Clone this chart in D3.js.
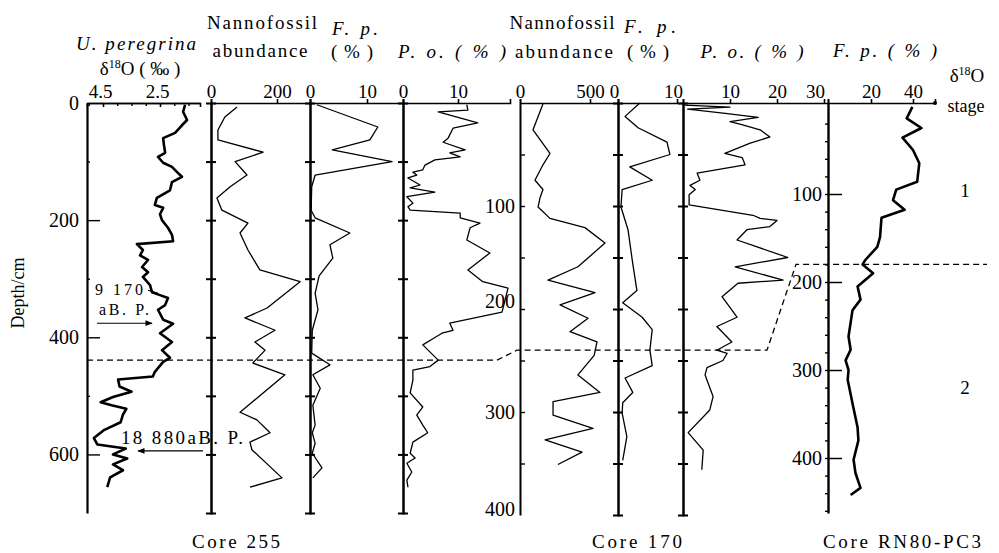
<!DOCTYPE html>
<html>
<head>
<meta charset="utf-8">
<script src="https://cdn.jsdelivr.net/npm/d3@7"></script>
<style>
  body { margin: 0; background: #fff; }
  svg, svg text { font-family: "Liberation Serif", "Times New Roman", "DejaVu Serif", serif; }
</style>
</head>
<body>
<svg id="chart" width="999" height="553" font-family="Liberation Serif, serif"></svg>
<script>
// All series are [depth (cm), value] pairs

// Core 255
var d18O255 = [[3,1.62],[15,1.69],[29,1.55],[38,1.73],[51,1.97],[60,2.39],[72,2.36],[85,2.32],[92,2.57],[102,2.39],[109,2.08],[118,1.90],[126,1.73],[135,2.08],[149,2.15],[162,2.61],[174,2.68],[179,2.39],[190,2.50],[200,2.43],[213,2.22],[225,2.08],[236,2.04],[241,3.31],[251,3.10],[260,3.20],[268,2.92],[280,3.13],[289,2.92],[297,3.10],[311,2.85],[323,2.78],[328,2.50],[333,2.22],[345,2.32],[353,2.57],[370,2.39],[377,2.04],[393,2.50],[408,2.08],[422,2.43],[435,2.15],[442,2.39],[459,2.68],[467,2.75],[472,3.97],[484,3.92],[493,3.50],[502,4.15],[511,4.58],[516,4.20],[522,3.68],[532,3.80],[545,3.88],[558,4.45],[572,4.82],[583,4.70],[590,3.70],[600,4.15],[607,3.65],[617,4.15],[627,3.80],[639,4.25],[656,4.35]];
var nanno255 = [[7,79],[24,42],[46,21],[63,21],[84,158],[100,73],[123,109],[143,58],[162,18],[183,33],[205,112],[222,88],[251,112],[285,148],[305,270],[350,170],[367,103],[388,194],[408,133],[422,164],[444,127],[464,224],[528,88],[541,139],[563,179],[579,118],[592,124],[640,215],[656,118]];
var fp255 = [[3,1.2],[41,11.9],[63,10.5],[80,3.9],[100,14.4],[123,0.9],[143,0.3],[183,0.2],[196,0.9],[222,7.0],[242,3.5],[265,4.0],[295,1.6],[325,0.9],[353,1.4],[388,0.4],[427,0.3],[447,3.5],[464,0.5],[487,1.8],[516,0.5],[550,0.9],[563,0.4],[581,0.9],[598,0.4],[623,2.1],[640,0.5]];
var po255 = [[3,11.6],[12,11.8],[15,6.4],[34,13.6],[43,9.1],[60,8.2],[67,7.3],[80,11.3],[85,8.5],[92,10.4],[97,5.8],[106,4.0],[114,3.6],[118,1.8],[123,2.5],[128,0.9],[140,3.1],[145,1.3],[152,5.8],[160,0.7],[171,1.8],[177,0.9],[183,1.3],[188,10.4],[196,10.4],[205,14.0],[213,12.2],[234,11.6],[256,15.8],[285,11.8],[305,14.5],[316,19.1],[357,18.0],[376,8.5],[388,9.1],[393,7.1],[402,5.5],[413,3.6],[439,6.4],[450,4.9],[456,1.8],[473,1.8],[495,1.3],[519,3.6],[533,2.5],[550,3.6],[563,4.5],[579,1.8],[598,1.3],[606,2.2],[615,0.7],[630,1.6],[644,0.7],[656,0.9]];

// Core 170
var nanno170 = [[1,164],[26,93],[49,214],[60,164],[75,107],[84,164],[92,143],[101,129],[112,214],[121,464],[136,607],[159,414],[172,200],[184,536],[196,286],[209,486],[222,357],[232,550],[245,530],[264,414],[281,571],[290,236],[303,236],[316,521],[327,179],[339,443],[351,271]];
var fp170 = [[0,3.7],[13,1.2],[24,3.4],[38,8.3],[50,8.8],[62,2.0],[75,5.8],[84,0.7],[101,0.5],[123,1.7],[152,2.4],[182,3.2],[194,0.8],[208,4.1],[220,5.8],[240,5.4],[255,5.8],[267,1.2],[281,2.5],[291,0.8],[301,0.7],[324,1.5],[347,0.8]];
var po170 = [[2,0.3],[4,10.0],[6,1.0],[10,9.0],[14,16.0],[18,10.0],[21,12.5],[26,16.4],[33,18.5],[39,14.3],[49,8.9],[53,12.6],[60,13.2],[68,3.0],[75,3.6],[80,1.5],[84,2.6],[89,1.3],[99,1.3],[109,14.9],[112,16.4],[114,20.0],[120,18.5],[123,13.6],[133,11.5],[150,22.3],[159,11.1],[172,21.3],[175,11.7],[188,8.3],[208,11.5],[217,7.2],[232,10.4],[240,7.2],[243,9.4],[250,8.5],[257,5.1],[264,4.7],[285,6.4],[298,5.7],[320,1.1],[337,4.3],[356,4.0]];

// Core RN80-PC3
var fpPC3 = [[1,39.7],[14,37],[25,44],[36,35],[50,40],[65,43],[86,42],[95,32],[107,30.5],[118,36],[127,25],[149,24.3],[160,23],[175,17.3],[180,16],[190,21],[205,13.6],[220,15],[232,11.2],[262,9.3],[277,10.3],[289,7.9],[300,9.3],[311,8.9],[338,11.2],[365,13.6],[380,14],[402,11.7],[417,12.6],[434,15],[442,10.3]];

// stage 1/2 boundary depth in each core
var boundary255 = 439, boundary170 = 240, boundaryPC3 = 180;

// radiocarbon dates on core 255
var dates255 = [{label: "9 170", depth: 376}, {label: "18 880aB. P.", depth: 594}];

// isotope stages on core RN80-PC3
var stages = [{label: "1", depth: 95}, {label: "2", depth: 319}];

// tick values of the top scales
var ticksD18 = [4.5, 2.5];
var ticksNanno255 = [0, 200];
var ticksFp255 = [0, 10];
var ticksPo255 = [0, 10];
var ticksNanno170 = [0, 500];
var ticksFp170 = [0, 10];
var ticksPo170 = [10, 20, 30];
var ticksPC3 = [20, 40];

var FONT = "Liberation Serif, Times New Roman, serif";
var svg = d3.select("#chart");
var TOP = 103;

function stretch(v0, p0, v1, p1, a, b) {
  var s = d3.scaleLinear().domain([v0, v1]).range([p0, p1]);
  return s.domain([s.invert(a), s.invert(b)]).range([a, b]);
}

// depth scales
var y255 = stretch(0, 103, 700, 513, 103, 513);
var y170 = stretch(0, 103, 400, 515, 103, 515);
var yPC3 = stretch(100, 194, 400, 458, 103, 513);

// value scales, one per column
var xD18 = stretch(4.5, 103, 2.5, 160, 87, 200);
var xNanno255 = stretch(0, 211, 200, 277, 211, 310);
var xFp255 = stretch(0, 310, 10, 367, 310, 403);
var xPo255 = stretch(0, 403, 10, 458, 403, 510);
var xNanno170 = stretch(0, 520, 500, 590, 520, 618);
var xFp170 = stretch(0, 618, 10, 677, 618, 683);
var xPo170 = stretch(0, 683, 10, 730, 683, 828);
var xPC3 = stretch(20, 871, 40, 913, 828, 935);

function styleAxis(g, width) {
  g.attr("font-size", 19).attr("font-family", FONT);
  g.selectAll("path, line").attr("stroke", "#000").attr("stroke-width", width);
  g.selectAll("text").attr("fill", "#000");
}

// top scales
function topAxis(x, ticks, down) {
  var g = svg.append("g").attr("transform", "translate(0," + TOP + ")");
  g.call(d3.axisTop(x).tickValues(ticks).tickSizeOuter(0)
    .tickSize(down ? -4 : 4).tickPadding(down ? 5 : 1).tickFormat(d3.format("")));
  styleAxis(g, 1.6);
  return g;
}
topAxis(xD18, ticksD18, true).selectAll(".tick text").attr("dx", -3);
topAxis(xNanno255, ticksNanno255);
topAxis(xFp255, ticksFp255);
topAxis(xPo255, ticksPo255);
topAxis(xNanno170, ticksNanno170);
topAxis(xFp170, ticksFp170).selectAll(".tick text").attr("dx", -4);
topAxis(xPo170, ticksPo170).selectAll(".tick text").attr("dx", d => d === 30 ? -9 : 0);
topAxis(xPC3, ticksPC3);
svg.append("circle").attr("cx", xPC3.range()[1]).attr("cy", TOP).attr("r", 2).attr("fill", "#000");

// minor ticks on the isotope scale
svg.append("g").attr("transform", "translate(0," + TOP + ")")
  .call(d3.axisTop(xD18).tickValues([5, 4, 3.5, 3, 2, 1.5]).tickSize(-3).tickSizeOuter(0).tickFormat(""))
  .call(g => styleAxis(g, 1.4));

// vertical stems with cross ticks
function stem(xPos, y, ticks, size) {
  [d3.axisLeft, d3.axisRight].forEach(function (ax) {
    var g = svg.append("g").attr("transform", "translate(" + xPos + ",0)");
    g.call(ax(y).tickValues(ticks).tickSize(size).tickSizeOuter(size).tickFormat(""));
    styleAxis(g, 2);
  });
}
[xNanno255, xFp255, xPo255].forEach(function (x) {
  stem(x.range()[0], y255, [100, 200, 300, 400, 500, 600], 5);
});
[xFp170, xPo170].forEach(function (x) {
  stem(x.range()[0], y170, [50, 100, 150, 200, 250, 300, 350], 5);
});

// core 255 depth axis
var ax255 = svg.append("g").attr("transform", "translate(87,0)");
ax255.call(d3.axisLeft(y255).tickValues([0, 200, 400, 600]).tickSize(0).tickSizeOuter(0).tickPadding(8));
styleAxis(ax255, 2.2);
ax255.selectAll("text").attr("font-size", 20);
svg.append("g").attr("transform", "translate(87,0)")
  .call(d3.axisRight(y255).tickValues([200, 400, 600]).tickSize(13).tickSizeOuter(0).tickFormat(""))
  .call(g => styleAxis(g, 1.4)).select(".domain").remove();
svg.append("g").attr("transform", "translate(87,0)")
  .call(d3.axisRight(y255).tickValues([100, 300, 500]).tickSize(3).tickSizeOuter(0).tickFormat(""))
  .call(g => styleAxis(g, 1.4)).select(".domain").remove();

// core 170 depth axis
var ax170 = svg.append("g").attr("transform", "translate(" + xNanno170.range()[0] + ",0)");
ax170.call(d3.axisLeft(y170).tickValues([100, 200, 300, 400]).tickSize(0).tickSizeOuter(0).tickPadding(5));
styleAxis(ax170, 2);
ax170.selectAll("text").attr("font-size", 20).attr("dy", d => d === 200 ? "-0.1em" : d === 400 ? "0em" : "0.32em");
svg.append("g").attr("transform", "translate(" + xNanno170.range()[0] + ",0)")
  .call(d3.axisRight(y170).tickValues([50, 100, 150, 200, 250, 300, 350]).tickSize(5).tickSizeOuter(0).tickFormat(""))
  .call(g => styleAxis(g, 1.4)).select(".domain").remove();

// core RN80-PC3 depth axis
var axPC3 = svg.append("g").attr("transform", "translate(" + xPC3.range()[0] + ",0)");
axPC3.call(d3.axisLeft(yPC3).tickValues([100, 200, 300, 400]).tickSize(0).tickSizeOuter(0).tickPadding(6));
styleAxis(axPC3, 2.4);
axPC3.selectAll("text").attr("font-size", 20);
svg.append("g").attr("transform", "translate(" + xPC3.range()[0] + ",0)")
  .call(d3.axisRight(yPC3).tickValues([100, 200, 300, 400]).tickSize(14).tickSizeOuter(0).tickFormat(""))
  .call(g => styleAxis(g, 1.5)).select(".domain").remove();
svg.append("g").attr("transform", "translate(" + xPC3.range()[0] + ",0)")
  .call(d3.axisLeft(yPC3).tickValues(d3.range(20, 461, 20)).tickSize(3).tickSizeOuter(0).tickFormat(""))
  .call(g => styleAxis(g, 1.4)).select(".domain").remove();

// curves
function curve(data, x, y, width) {
  svg.append("path")
    .datum(data)
    .attr("fill", "none")
    .attr("stroke", "#000")
    .attr("stroke-width", width)
    .attr("stroke-linejoin", "round")
    .attr("d", d3.line().x(d => x(d[1])).y(d => y(d[0])));
}
curve(d18O255, xD18, y255, 2.6);
curve(nanno255, xNanno255, y255, 1.3);
curve(fp255, xFp255, y255, 1.3);
curve(po255, xPo255, y255, 1.3);
curve(nanno170, xNanno170, y170, 1.3);
curve(fp170, xFp170, y170, 1.3);
curve(po170, xPo170, y170, 1.3);
curve(fpPC3, xPC3, yPC3, 2.6);

// stage boundary correlated between the cores
var boundary = [
  [87, y255(boundary255)], [497, y255(boundary255)],
  [517, y170(boundary170)], [767, y170(boundary170)],
  [796, yPC3(boundaryPC3)], [987, yPC3(boundaryPC3)]
];
svg.append("path")
  .attr("d", d3.line()(boundary))
  .attr("fill", "none")
  .attr("stroke", "#000")
  .attr("stroke-width", 1.3)
  .attr("stroke-dasharray", "6,4");

// arrowheads for the dates
svg.append("defs").append("marker")
  .attr("id", "head")
  .attr("viewBox", "0 0 10 10")
  .attr("refX", 9).attr("refY", 5)
  .attr("markerWidth", 8).attr("markerHeight", 6)
  .attr("orient", "auto-start-reverse")
  .append("path").attr("d", "M0,1 L10,5 L0,9 Z").attr("fill", "#000");

// text helper: serif, centred, optionally fitted to the printed width
function label(x, y, txt, size, width, italic) {
  var t = svg.append("text")
    .attr("x", x).attr("y", y)
    .attr("text-anchor", "middle")
    .attr("font-family", FONT)
    .attr("font-size", size);
  if (width) t.attr("textLength", width).attr("lengthAdjust", "spacing");
  if (italic) t.attr("font-style", "italic");
  return t.text(txt);
}

var d1 = y255(dates255[0].depth);
label(119, d1 - 28, dates255[0].label, 16, 48);
label(124, d1 - 8, "aB. P.", 16, 50);
svg.append("line").attr("x1", 148).attr("y1", d1 - 33).attr("x2", 158).attr("y2", d1 - 30)
  .attr("stroke", "#000").attr("stroke-width", 1.2);
svg.append("line").attr("x1", 97).attr("y1", d1).attr("x2", 152).attr("y2", d1)
  .attr("stroke", "#000").attr("stroke-width", 1.2).attr("marker-end", "url(#head)");

var d2 = y255(dates255[1].depth);
label(182, d2 - 7, dates255[1].label, 19, 122);
svg.append("line").attr("x1", 203).attr("y1", d2).attr("x2", 138).attr("y2", d2)
  .attr("stroke", "#000").attr("stroke-width", 1.2).attr("marker-end", "url(#head)");

// stage numbers
svg.selectAll(".stage").data(stages).join("text")
  .attr("class", "stage")
  .attr("x", 965).attr("y", d => yPC3(d.depth) + 7)
  .attr("text-anchor", "middle").attr("font-size", 19).attr("font-family", FONT)
  .text(d => d.label);

// headers
label(262, 29, "Nannofossil", 19, 110);
label(260, 57, "abundance", 19, 95);
label(136, 50, "U. peregrina", 19, 120, true);
var dl = svg.append("text").attr("x", 140).attr("y", 75).attr("text-anchor", "middle")
  .attr("font-family", FONT).attr("font-size", 19);
dl.append("tspan").text("δ");
dl.append("tspan").attr("font-size", 12).attr("dy", -7).text("18");
dl.append("tspan").attr("dy", 7).text("O ( ‰ )");

label(355, 35, "F. p.", 19, 46, true);
label(352, 58, "( % )", 19, 42);
label(452, 58, "P. o. ( % )", 19, 108, true);
label(562, 29, "Nannofossil", 19, 105);
label(564, 58, "abundance", 19, 98);
label(650, 33, "F. p.", 19, 52, true);
label(648, 58, "( % )", 19, 42);
label(752, 58, "P. o. ( % )", 19, 103, true);
label(885, 57, "F. p. ( % )", 19, 104, true);

var st = svg.append("text").attr("x", 967).attr("y", 82).attr("text-anchor", "middle")
  .attr("font-family", FONT).attr("font-size", 19);
st.append("tspan").text("δ");
st.append("tspan").attr("font-size", 12).attr("dy", -7).text("18");
st.append("tspan").attr("dy", 7).text("O");
label(966, 112, "stage", 18);

svg.append("text")
  .attr("transform", "translate(24,293) rotate(-90)")
  .attr("text-anchor", "middle")
  .attr("font-family", FONT)
  .attr("font-size", 18)
  .text("Depth/cm");

label(236, 548, "Core 255", 19, 88);
label(637, 548, "Core 170", 19, 90);
label(902, 548, "Core RN80-PC3", 19, 158);
</script>
</body>
</html>
